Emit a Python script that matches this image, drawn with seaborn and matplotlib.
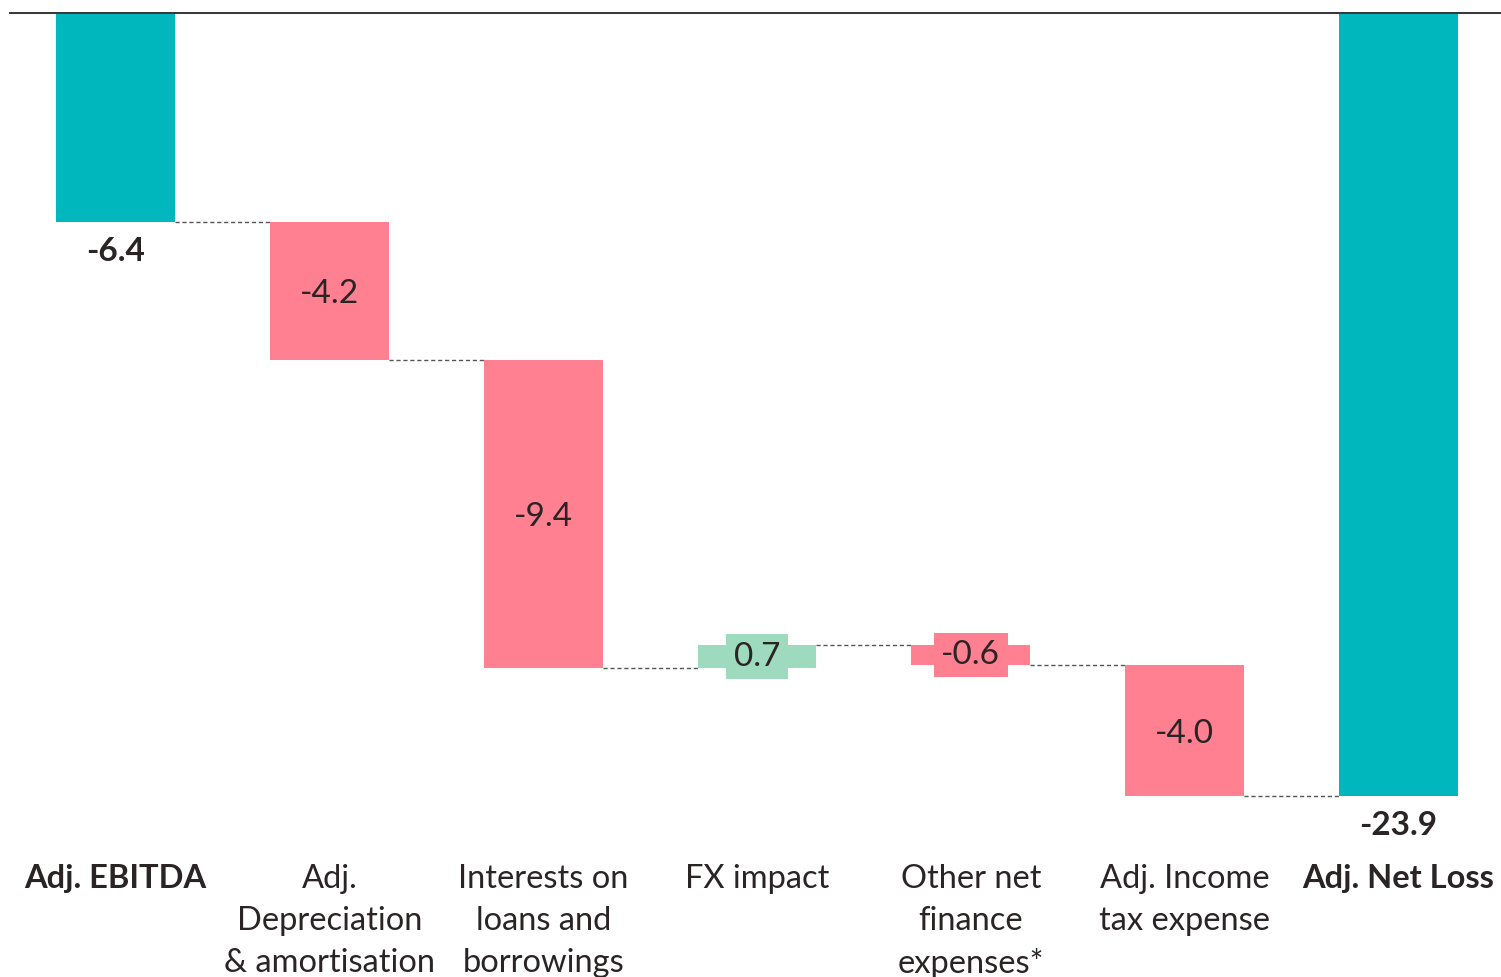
import matplotlib
matplotlib.use("Agg")
import matplotlib.pyplot as plt
import seaborn as sns
import pandas as pd

# Bridge from Adj. EBITDA to Adj. Net Loss
categories = [
    "Adj. EBITDA",
    "Adj.\nDepreciation\n& amortisation",
    "Interests on\nloans and\nborrowings",
    "FX impact",
    "Other net\nfinance\nexpenses*",
    "Adj. Income\ntax expense",
    "Adj. Net Loss",
]
deltas = [-6.4, -4.2, -9.4, 0.7, -0.6, -4.0]
total = -23.9
kinds = ["total", "step", "step", "step", "step", "step", "total"]

TEAL = "#00B7BE"
PINK = "#FF8091"
GREEN = "#9EDBBE"
INK = "#2A2425"

sns.set_theme(style="white")
plt.rcParams["font.family"] = ["Lato", "DejaVu Sans"]

# running totals: start / end of each floating bar
starts, ends = [], []
level = 0.0
for i, d in enumerate(deltas):
    starts.append(level)
    level = round(level + d, 2)
    ends.append(level)
starts.append(0.0)
ends.append(total)

heights = [e - s for s, e in zip(starts, ends)]
colors = []
for k, h in zip(kinds, heights):
    if k == "total":
        colors.append(TEAL)
    else:
        colors.append(GREEN if h > 0 else PINK)

df = pd.DataFrame({"category": categories, "start": starts, "height": heights})

fig = plt.figure(figsize=(15.01, 9.77), dpi=100)
ax = fig.add_axes([8.5 / 1501, 1 - 840 / 977, 1 - 8.5 / 1501, (840 - 12) / 977])

width = 0.556
for i, row in df.iterrows():
    sns.barplot(
        x=[row["category"]], y=[row["height"]], order=categories,
        bottom=row["start"], color=colors[i], saturation=1,
        width=width, ax=ax, zorder=2, linewidth=0,
    )

# dashed connectors between consecutive bars
for i in range(len(categories) - 1):
    y = ends[i]
    ax.plot([i + width / 2, i + 1 - width / 2], [y, y],
            ls=(0, (3, 2)), lw=1.0, color="#555555", zorder=1)

ax.set_xlim(-0.5, 6 + (1501 - 1398.5) / 214)
ax.set_ylim(-828 / 32.8, 0)
ax.axhline(0, color="#3a3a3a", lw=2.2, zorder=3)

for s in ax.spines.values():
    s.set_visible(False)
ax.set_yticks([])
ax.set_xlabel("")
ax.set_ylabel("")

# category labels
ax.set_xticks(range(len(categories)))
ax.set_xticklabels(categories, fontsize=23.5, color=INK, linespacing=1.5,
                   va="top")
for lbl, k in zip(ax.get_xticklabels(), kinds):
    if k == "total":
        lbl.set_fontweight("bold")
ax.tick_params(axis="x", length=0, pad=17)

# value labels
for i, (s, e, k) in enumerate(zip(starts, ends, kinds)):
    value = e - s if k == "step" else e
    txt = f"{value:.1f}"
    if k == "total":
        ax.text(i, e - 0.45, txt, ha="center", va="top", fontsize=24,
                fontweight="bold", color=INK, zorder=4)
    elif abs(value) < 1.0:
        ax.text(i, (s + e) / 2, txt, ha="center", va="center", fontsize=24,
                color=INK, zorder=4,
                bbox=dict(boxstyle="square,pad=0.22", fc=colors[i], ec="none"))
    else:
        ax.text(i, (s + e) / 2 - 0.1, txt, ha="center", va="center", fontsize=24,
                color=INK, zorder=4)

fig.savefig("out.png", dpi=100)
